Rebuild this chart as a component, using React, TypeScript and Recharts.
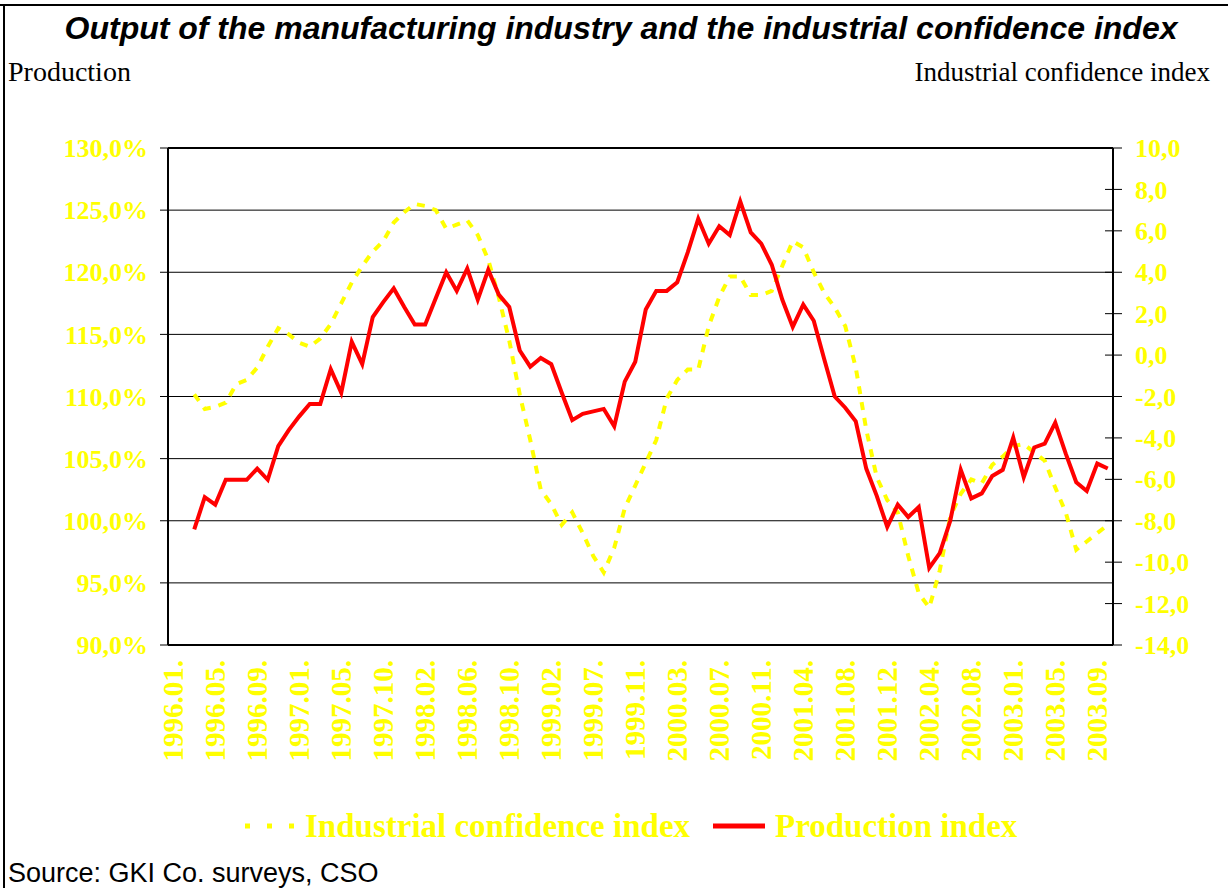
import React from "react";
import {
  LineChart,
  Line,
  XAxis,
  YAxis,
  CartesianGrid,
  Legend,
  ReferenceLine,
} from "recharts";

// months on the category axis (four months are missing from the source sheet)
const months = [
  "1996.01", "1996.02", "1996.03", "1996.04", "1996.05", "1996.06", "1996.07", "1996.08",
  "1996.09", "1996.10", "1996.11", "1996.12", "1997.01", "1997.02", "1997.03", "1997.04",
  "1997.05", "1997.06", "1997.07", "1997.08", "1997.10", "1997.11", "1997.12", "1998.01",
  "1998.02", "1998.03", "1998.04", "1998.05", "1998.06", "1998.07", "1998.08", "1998.09",
  "1998.10", "1998.11", "1998.12", "1999.01", "1999.02", "1999.03", "1999.04", "1999.05",
  "1999.07", "1999.08", "1999.09", "1999.10", "1999.11", "1999.12", "2000.01", "2000.02",
  "2000.03", "2000.04", "2000.05", "2000.06", "2000.07", "2000.08", "2000.09", "2000.10",
  "2000.11", "2000.12", "2001.01", "2001.02", "2001.04", "2001.05", "2001.06", "2001.07",
  "2001.08", "2001.09", "2001.10", "2001.11", "2001.12", "2002.01", "2002.02", "2002.03",
  "2002.04", "2002.05", "2002.06", "2002.07", "2002.08", "2002.09", "2002.10", "2002.11",
  "2003.01", "2003.02", "2003.03", "2003.04", "2003.05", "2003.06", "2003.07", "2003.08",
  "2003.09", "2003.10",
];

// production index, % (left axis)
const production = [
  null, null, 99.3, 101.9, 101.3, 103.3, 103.3, 103.3, 104.2, 103.3,
  106.0, 107.3, 108.4, 109.4, 109.4, 112.2, 110.3, 114.4, 112.6, 116.4,
  117.6, 118.7, 117.2, 115.8, 115.8, 117.9, 120.0, 118.5, 120.3, 117.8,
  120.2, 118.2, 117.2, 113.7, 112.4, 113.1, 112.6, 110.3, 108.1, 108.6,
  108.8, 109.0, 107.6, 111.2, 112.8, 117.0, 118.5, 118.5, 119.2, 121.6,
  124.3, 122.3, 123.7, 123.0, 125.7, 123.2, 122.3, 120.6, 117.8, 115.6,
  117.4, 116.1, 113.0, 110.0, 109.1, 108.0, 104.2, 102.0, 99.5, 101.3,
  100.3, 101.1, 96.2, 97.4, 100.0, 104.1, 101.8, 102.2, 103.6, 104.1,
  106.7, 103.5, 105.9, 106.2, 107.9, 105.4, 103.1, 102.4, 104.6, 104.2,
];

// industrial confidence index (right axis)
const confidence = [
  null, null, -1.9, -2.6, -2.5, -2.3, -1.4, -1.2, -0.6, 0.4,
  1.3, 1.0, 0.6, 0.4, 0.8, 1.5, 2.5, 3.5, 4.3, 5.0,
  5.5, 6.4, 6.9, 7.3, 7.2, 7.0, 6.1, 6.3, 6.5, 5.8,
  4.6, 2.8, 0.7, -1.9, -4.1, -6.5, -7.2, -8.2, -7.6, -8.6,
  -9.7, -10.5, -9.3, -7.4, -6.3, -5.2, -4.1, -2.1, -1.2, -0.7,
  -0.7, 1.4, 2.8, 3.8, 3.8, 2.9, 2.9, 3.1, 4.3, 5.5,
  5.2, 4.0, 3.0, 2.3, 1.4, -0.6, -3.6, -5.9, -7.0, -7.6,
  -9.7, -11.5, -12.2, -10.4, -7.8, -6.7, -6.0, -6.2, -5.3, -4.9,
  -4.4, -4.3, -4.7, -5.1, -6.4, -7.6, -9.4, -9.0, -8.6, -8.2,
];

const leftTicks = [90, 95, 100, 105, 110, 115, 120, 125, 130];
const rightTicks = [-14, -12, -10, -8, -6, -4, -2, 0, 2, 4, 6, 8, 10];

const data = months.map((month, i) => ({
  month,
  production: production[i],
  confidence: confidence[i],
}));

const YELLOW = "#FFFF00";
const RED = "#FF0000";
const SERIF = "'Liberation Serif', 'Times New Roman', serif";
const SANS = "'Liberation Sans', Arial, sans-serif";

const series = [
  { key: "confidence", name: "Industrial confidence index", color: YELLOW, axis: "right", width: 4, dash: "8 8", legendDash: "5 17" },
  { key: "production", name: "Production index", color: RED, axis: "left", width: 4, dash: undefined, legendDash: undefined },
];

const comma = (v: number) => v.toFixed(1).replace(".", ",");

function MonthTick({ x, y, payload }: any) {
  return (
    <text
      transform={`translate(${x + 10},${y + 15}) rotate(-90)`}
      textAnchor="end"
      fill={YELLOW}
      fontFamily={SERIF}
      fontWeight="bold"
      fontSize={29}
    >
      {payload.value + "."}
    </text>
  );
}

function RightTick({ x, y, payload }: any) {
  return (
    <g>
      <line x1={x - 8} x2={x + 9} y1={y} y2={y} stroke="#000" strokeWidth={1} />
      <text
        x={x + 22}
        y={y}
        dy="0.35em"
        fill={YELLOW}
        fontFamily={SERIF}
        fontWeight="bold"
        fontSize={26}
      >
        {comma(payload.value)}
      </text>
    </g>
  );
}

function LegendBox() {
  const pos = [
    { line: 245, text: 305 },
    { line: 713, text: 775 },
  ];
  return (
    <svg width={1228} height={50}>
      {series.map((s, i) => (
        <g key={s.key}>
          <line
            x1={pos[i].line}
            x2={pos[i].line + 52}
            y1={26}
            y2={26}
            stroke={s.color}
            strokeWidth={5}
            strokeDasharray={s.legendDash}
          />
          <text
            x={pos[i].text}
            y={37}
            fill={YELLOW}
            fontFamily={SERIF}
            fontWeight="bold"
            fontSize={33}
          >
            {s.name}
          </text>
        </g>
      ))}
    </svg>
  );
}

export default function App() {
  return (
    <div
      style={{
        position: "absolute",
        left: 0,
        top: 0,
        width: 1228,
        height: 888,
        background: "#fff",
        overflow: "hidden",
      }}
    >
      <svg width={1228} height={888} style={{ position: "absolute", left: 0, top: 0 }}>
        <line x1={0} x2={1228} y1={5} y2={5} stroke="#000" strokeWidth={2} />
        <line x1={4} x2={4} y1={4} y2={888} stroke="#000" strokeWidth={2} />
        <text
          x={621}
          y={39}
          textAnchor="middle"
          fontFamily={SANS}
          fontWeight="bold"
          fontStyle="italic"
          fontSize={32}
        >
          Output of the manufacturing industry and the industrial confidence index
        </text>
        <text x={8} y={81} fontFamily={SERIF} fontSize={28}>
          Production
        </text>
        <text x={1210} y={81} textAnchor="end" fontFamily={SERIF} fontSize={27}>
          Industrial confidence index
        </text>
        <text x={8} y={882} fontFamily={SANS} fontSize={27}>
          Source: GKI Co. surveys, CSO
        </text>
      </svg>
      <div style={{ position: "absolute", left: 0, top: 0 }}>
        <LineChart
          width={1228}
          height={888}
          data={data}
          margin={{ top: 148, right: 35, bottom: 93, left: 68 }}
        >
          <CartesianGrid yAxisId="left" vertical={false} stroke="#000" strokeWidth={1} />
          <XAxis
            dataKey="month"
            scale="band"
            interval={3}
            height={150}
            tickLine={false}
            tickSize={0}
            tickMargin={0}
            axisLine={{ stroke: "#000", strokeWidth: 2 }}
            tick={<MonthTick />}
          />
          <YAxis
            yAxisId="left"
            orientation="left"
            width={100}
            domain={[90, 130]}
            ticks={leftTicks}
            tickFormatter={(v: number) => comma(v) + "%"}
            tickSize={8}
            tickMargin={12}
            tickLine={{ stroke: "#000" }}
            axisLine={{ stroke: "#000", strokeWidth: 2 }}
            tick={{ fill: YELLOW, fontFamily: SERIF, fontWeight: "bold", fontSize: 26 }}
          />
          <YAxis
            yAxisId="right"
            orientation="right"
            width={80}
            domain={[-14, 10]}
            ticks={rightTicks}
            tickSize={0}
            tickMargin={0}
            tickLine={false}
            axisLine={{ stroke: "#000", strokeWidth: 2 }}
            tick={<RightTick />}
          />
          <ReferenceLine yAxisId="left" y={130} stroke="#000" strokeWidth={2} />
          {series.map((s) => (
            <Line
              key={s.key}
              yAxisId={s.axis}
              dataKey={s.key}
              name={s.name}
              type="linear"
              stroke={s.color}
              strokeWidth={s.width}
              strokeDasharray={s.dash}
              dot={false}
              activeDot={false}
              isAnimationActive={false}
            />
          ))}
          <Legend
            layout="horizontal"
            verticalAlign="middle"
            align="center"
            wrapperStyle={{ top: 800, left: 0, width: 1228 }}
            content={<LegendBox />}
          />
        </LineChart>
      </div>
    </div>
  );
}
